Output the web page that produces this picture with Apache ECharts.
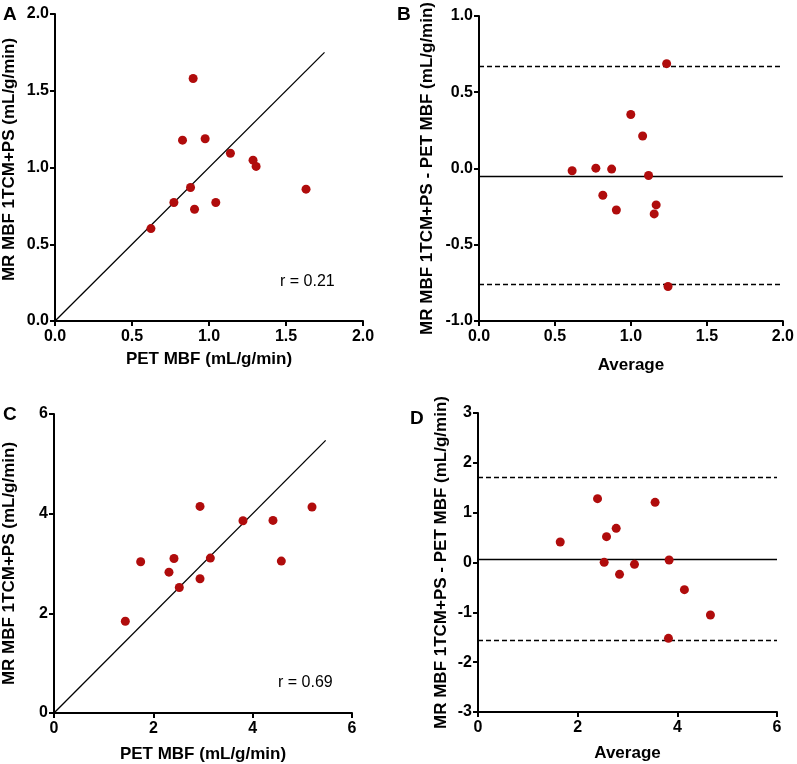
<!DOCTYPE html>
<html>
    <head>
        <meta charset="UTF-8">
        <title></title>
        <script type="text/javascript" src="https://cdn.jsdelivr.net/npm/echarts@6/dist/echarts.min.js"></script>
    </head>
    <body style="margin:0;">
        <div id="main" style="width: 797px;height:764px;"></div>
    </body>
</html>
<script type="text/javascript">
        // panel A: PET vs MR
        var aPet = [0.623, 0.772, 0.828, 0.880, 0.897, 0.906, 0.975, 1.044, 1.139, 1.286, 1.306, 1.630];
        var aMr = [0.602, 0.772, 1.178, 0.870, 1.580, 0.728, 1.187, 0.772, 1.093, 1.048, 1.007, 0.859];
        // panel B: Bland-Altman
        var bAvg = [0.613, 0.769, 0.815, 0.873, 0.904, 0.999, 1.077, 1.116, 1.153, 1.166, 1.235, 1.244];
        var bDiff = [-0.015, 0.002, -0.176, -0.004, -0.272, 0.354, 0.213, -0.046, -0.298, -0.239, 0.687, -0.774];
        var bLines = [-0.046, 0.674, -0.759]; // bias, upper, lower
        // panel C
        var cPet = [1.436, 1.745, 2.315, 2.416, 2.523, 2.940, 2.940, 3.148, 3.805, 4.409, 4.577, 5.195];
        var cMr = [1.842, 3.034, 2.826, 3.101, 2.518, 4.146, 2.693, 3.108, 3.858, 3.865, 3.048, 4.133];
        // panel D
        var dAvg = [1.650, 2.399, 2.532, 2.579, 2.773, 2.840, 3.140, 3.554, 3.822, 3.835, 4.142, 4.664];
        var dDiff = [0.411, 1.281, 0.003, 0.518, 0.686, -0.237, -0.037, 1.207, -1.522, 0.050, -0.545, -1.054];
        var dLines = [0.064, 1.709, -1.575];
        var identA = [0, 1.75];
        var identC = [0, 5.47];

        var font = 'Liberation Sans';
        var red = '#b00c0c';

        function pairs(xs, ys) {
                return xs.map(function(x, i) { return [x, ys[i]]; });
        }
        function xAx(idx, min, max, interval, name, gap, dec) {
                return {
                        type: 'value', gridIndex: idx, min: min, max: max, interval: interval,
                        name: name, nameLocation: 'middle', nameGap: gap,
                        nameTextStyle: { fontFamily: font, fontWeight: 'bold', fontSize: 17, color: '#000' },
                        axisLine: { onZero: false, lineStyle: { color: '#000', width: 2 } },
                        axisTick: { length: 5, lineStyle: { color: '#000', width: 2 } },
                        axisLabel: {
                                margin: 8, fontFamily: font, fontWeight: 'bold', fontSize: 16, color: '#000',
                                formatter: function(v) { return dec ? v.toFixed(1) : String(v); }
                        },
                        splitLine: { show: false }
                };
        }
        function yAx(idx, min, max, interval, name, gap, dec) {
                var a = xAx(idx, min, max, interval, name, gap, dec);
                a.axisLabel.margin = 6;
                return a;
        }
        function dots(idx, xs, ys) {
                return {
                        type: 'scatter', xAxisIndex: idx, yAxisIndex: idx,
                        symbolSize: 9, itemStyle: { color: red, opacity: 1 },
                        data: pairs(xs, ys), z: 5
                };
        }
        function ident(idx, ends) {
                return {
                        type: 'line', xAxisIndex: idx, yAxisIndex: idx, showSymbol: false, silent: true,
                        lineStyle: { color: '#000', width: 1.3 },
                        data: [[ends[0], ends[0]], [ends[1], ends[1]]]
                };
        }
        function blandLines(idx, vals) {
                return {
                        type: 'line', xAxisIndex: idx, yAxisIndex: idx, data: [],
                        markLine: {
                                silent: true, symbol: 'none', label: { show: false }, animation: false,
                                data: [
                                        { yAxis: vals[0], lineStyle: { type: 'solid', color: '#000', width: 1.4 } },
                                        { yAxis: vals[1], lineStyle: { type: [5, 3], color: '#000', width: 1.4 } },
                                        { yAxis: vals[2], lineStyle: { type: [5, 3], color: '#000', width: 1.4 } }
                                ]
                        }
                };
        }
        function txt(left, top, text, size, bold) {
                return {
                        type: 'text', left: left, top: top,
                        style: { text: text, fontFamily: font, fontSize: size, fontWeight: bold ? 'bold' : 'normal', fill: '#000' }
                };
        }

        var myChart = echarts.init(document.getElementById('main'));
        var yA = yAx(0, 0, 2, 0.5, 'MR MBF 1TCM+PS (mL/g/min)', 37, true);
        yA.nameTextStyle.padding = [0, 0, 0, 16];
        var option = {
                animation: false,
                backgroundColor: '#fff',
                grid: [
                        { left: 54, top: 14, width: 309, height: 307 },
                        { left: 479, top: 14, width: 307, height: 307 },
                        { left: 54, top: 414, width: 298, height: 299 },
                        { left: 478, top: 413, width: 299, height: 299 }
                ],
                xAxis: [
                        xAx(0, 0, 2, 0.5, 'PET MBF (mL/g/min)', 30, true),
                        xAx(1, 0, 2, 0.5, 'Average', 36, true),
                        xAx(2, 0, 6, 2, 'PET MBF (mL/g/min)', 33, false),
                        xAx(3, 0, 6, 2, 'Average', 33, false)
                ],
                yAxis: [
                        yA,
                        yAx(1, -1, 1, 0.5, 'MR MBF 1TCM+PS - PET MBF (mL/g/min)', 43, true),
                        yAx(2, 0, 6, 2, 'MR MBF 1TCM+PS (mL/g/min)', 36, false),
                        yAx(3, -3, 3, 1, 'MR MBF 1TCM+PS - PET MBF (mL/g/min)', 28, false)
                ],
                series: [
                        ident(0, identA),
                        dots(0, aPet, aMr),
                        blandLines(1, bLines),
                        dots(1, bAvg, bDiff),
                        ident(2, identC),
                        dots(2, cPet, cMr),
                        blandLines(3, dLines),
                        dots(3, dAvg, dDiff)
                ],
                graphic: [
                        txt(3, 5, 'A', 19, true),
                        txt(397, 5, 'B', 19, true),
                        txt(3, 405, 'C', 19, true),
                        txt(410, 409, 'D', 19, true),
                        txt(280, 274, 'r = 0.21', 16, false),
                        txt(278, 675, 'r = 0.69', 16, false)
                ]
        };
        myChart.setOption(option);
</script>
